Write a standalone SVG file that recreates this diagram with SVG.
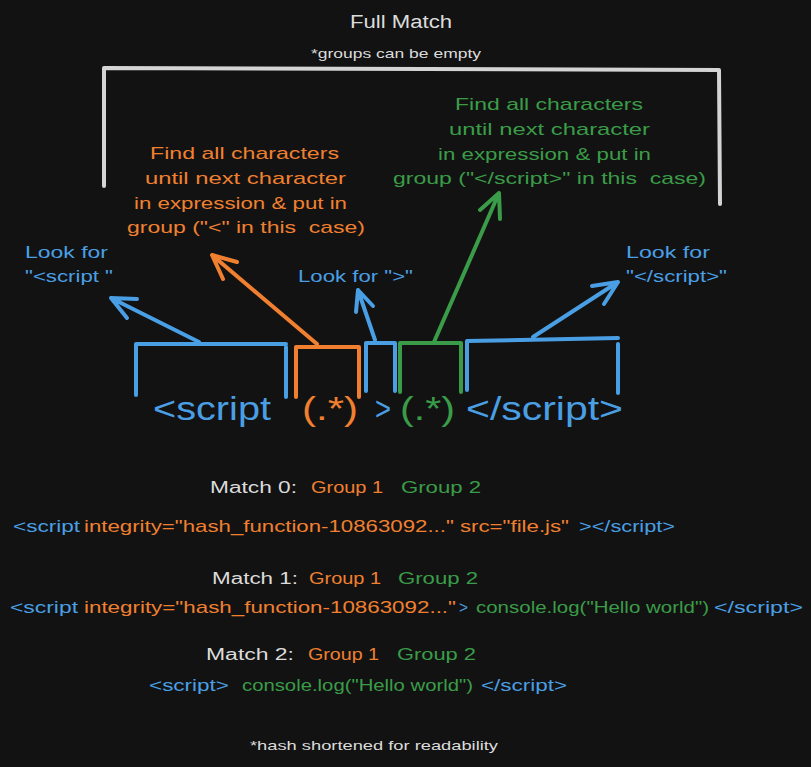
<svg xmlns="http://www.w3.org/2000/svg" width="811" height="767" viewBox="0 0 811 767">
<style>
text{font-family:"Liberation Sans","DejaVu Sans",sans-serif;white-space:pre;}
.w{fill:#dcdcdc}.b{fill:#4a9fe4}.o{fill:#f08030}.g{fill:#3a9c48}
.sb{stroke:#4a9fe4}.so{stroke:#f08030}.sg{stroke:#3a9c48}
.ln{fill:none;stroke-width:4;stroke-linecap:round;stroke-linejoin:round}
.t17{font-size:17px}.t16{font-size:16px}.t13{font-size:13px}
</style>
<rect width="811" height="767" fill="#121212"/>

<g id="title">
<text class="w" x="350" y="28" font-size="18" textLength="102" lengthAdjust="spacingAndGlyphs">Full Match</text>
<text class="w t13" x="311" y="58" textLength="170" lengthAdjust="spacingAndGlyphs">*groups can be empty</text>
</g>

<g id="full-match-bracket">
<path class="ln" stroke="#d4d4d4" d="M104,186 L104,68 L719,70 L720,204"/>
</g>

<g id="group2-note" class="g t17">
<text x="455" y="110" textLength="188" lengthAdjust="spacingAndGlyphs">Find all characters</text>
<text x="449" y="135" textLength="201" lengthAdjust="spacingAndGlyphs">until next character</text>
<text x="438" y="160" textLength="213" lengthAdjust="spacingAndGlyphs">in expression &amp; put in</text>
<text x="393" y="184" textLength="313" lengthAdjust="spacingAndGlyphs">group ("&lt;/script&gt;" in this  case)</text>
</g>

<g id="group1-note" class="o t17">
<text x="150" y="159" textLength="189" lengthAdjust="spacingAndGlyphs">Find all characters</text>
<text x="145" y="184" textLength="201" lengthAdjust="spacingAndGlyphs">until next character</text>
<text x="134" y="209" textLength="213" lengthAdjust="spacingAndGlyphs">in expression &amp; put in</text>
<text x="127" y="233" textLength="238" lengthAdjust="spacingAndGlyphs">group ("&lt;" in this  case)</text>
</g>

<g id="look-open" class="b t17">
<text x="25" y="258" textLength="83" lengthAdjust="spacingAndGlyphs">Look for</text>
<text x="25" y="282" textLength="88" lengthAdjust="spacingAndGlyphs">"&lt;script "</text>
</g>

<g id="look-gt" class="b t17">
<text x="298" y="282" textLength="115" lengthAdjust="spacingAndGlyphs">Look for "&gt;"</text>
</g>

<g id="look-close" class="b t17">
<text x="626" y="258" textLength="84" lengthAdjust="spacingAndGlyphs">Look for</text>
<text x="626" y="282" textLength="101" lengthAdjust="spacingAndGlyphs">"&lt;/script&gt;"</text>
</g>

<g id="bracket-script-open">
<path class="ln sb" d="M136,395 L136,344 L286,344"/>
<path class="ln sb" d="M286,347 L286,397"/>
</g>
<g id="bracket-group1">
<path class="ln so" d="M296,397 L296,347 L359,347 L359,397"/>
</g>
<g id="bracket-gt">
<path class="ln sb" d="M366,391 L366,343 L395,343 L395,391"/>
</g>
<g id="bracket-group2">
<path class="ln sg" d="M400,392 L400,343 L461,343 L461,392"/>
</g>
<g id="bracket-script-close">
<path class="ln sb" d="M467,390 L467,341 L618,338"/>
<path class="ln sb" d="M618,344 L618,393"/>
</g>

<g id="regex" font-size="34">
<text class="b" x="153" y="420" textLength="118" lengthAdjust="spacingAndGlyphs">&lt;script</text>
<text class="o" x="302" y="420" textLength="56" lengthAdjust="spacingAndGlyphs">(.*)</text>
<text class="b" x="375" y="420" textLength="16" lengthAdjust="spacingAndGlyphs">&gt;</text>
<text class="g" x="400" y="420" textLength="55" lengthAdjust="spacingAndGlyphs">(.*)</text>
<text class="b" x="466" y="420" textLength="157" lengthAdjust="spacingAndGlyphs">&lt;/script&gt;</text>
</g>

<g id="connectors">
<path class="ln sb" d="M199,342 L111,298 M127,318 L111,298 L137,299"/>
<path class="ln so" d="M317,344 L212,255 M223,279 L212,255 L237,262"/>
<path class="ln sb" d="M375,340 L358,290 M356,312 L358,290 L373,306"/>
<path class="ln sg" d="M434,342 L499,193 M480,210 L499,193 L500,219"/>
<path class="ln sb" d="M533,337 L618,282 M592,286 L618,282 L604,304"/>
</g>

<g id="match0" class="t16">
<text class="w" x="210" y="493" textLength="87" lengthAdjust="spacingAndGlyphs">Match 0:</text>
<text class="o" x="311" y="493" textLength="72" lengthAdjust="spacingAndGlyphs">Group 1</text>
<text class="g" x="401" y="493" textLength="80" lengthAdjust="spacingAndGlyphs">Group 2</text>
</g>
<g id="line0" class="t17">
<text class="b" x="13" y="532" textLength="67" lengthAdjust="spacingAndGlyphs">&lt;script</text>
<text class="o" x="84" y="532" textLength="485" lengthAdjust="spacingAndGlyphs">integrity="hash_function-10863092..." src="file.js"</text>
<text class="b" x="579" y="532" textLength="96" lengthAdjust="spacingAndGlyphs">&gt;&lt;/script&gt;</text>
</g>

<g id="match1" class="t16">
<text class="w" x="212" y="584" textLength="86" lengthAdjust="spacingAndGlyphs">Match 1:</text>
<text class="o" x="309" y="584" textLength="72" lengthAdjust="spacingAndGlyphs">Group 1</text>
<text class="g" x="398" y="584" textLength="80" lengthAdjust="spacingAndGlyphs">Group 2</text>
</g>
<g id="line1" class="t17">
<text class="b" x="10" y="613" textLength="68" lengthAdjust="spacingAndGlyphs">&lt;script</text>
<text class="o" x="84" y="613" textLength="372" lengthAdjust="spacingAndGlyphs">integrity="hash_function-10863092..."</text>
<text class="b" x="459" y="613" textLength="9" lengthAdjust="spacingAndGlyphs">&gt;</text>
<text class="g" x="476" y="613" textLength="233" lengthAdjust="spacingAndGlyphs">console.log("Hello world")</text>
<text class="b" x="714" y="613" textLength="89" lengthAdjust="spacingAndGlyphs">&lt;/script&gt;</text>
</g>

<g id="match2" class="t16">
<text class="w" x="206" y="660" textLength="88" lengthAdjust="spacingAndGlyphs">Match 2:</text>
<text class="o" x="308" y="660" textLength="71" lengthAdjust="spacingAndGlyphs">Group 1</text>
<text class="g" x="397" y="660" textLength="79" lengthAdjust="spacingAndGlyphs">Group 2</text>
</g>
<g id="line2" class="t17">
<text class="b" x="149" y="691" textLength="80" lengthAdjust="spacingAndGlyphs">&lt;script&gt;</text>
<text class="g" x="242" y="691" textLength="231" lengthAdjust="spacingAndGlyphs">console.log("Hello world")</text>
<text class="b" x="481" y="691" textLength="86" lengthAdjust="spacingAndGlyphs">&lt;/script&gt;</text>
</g>

<g id="footnote">
<text class="w t13" x="250" y="750" textLength="248" lengthAdjust="spacingAndGlyphs">*hash shortened for readability</text>
</g>
</svg>
